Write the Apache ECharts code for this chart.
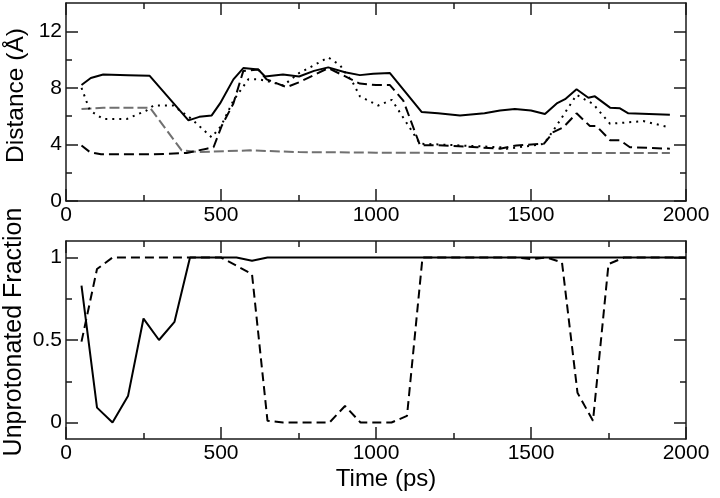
<!DOCTYPE html>
<html>
<head>
<meta charset="utf-8">
<script src="https://cdn.jsdelivr.net/npm/echarts@6/dist/echarts.min.js"></script>
<style>html,body{margin:0;padding:0;background:#fff}#c{width:720px;height:498px}</style>
</head>
<body>
<div id="c"></div>
<script>
// ---- Top panel: Distance (Å) vs Time (ps) ----
const solidT  = [50, 80, 120, 200, 270, 395, 430, 470, 497, 540, 572, 620, 642, 700, 752, 800, 846, 900, 948, 991, 1045, 1147, 1200, 1271, 1350, 1400, 1448, 1500, 1545, 1583, 1610, 1647, 1685, 1706, 1755, 1787, 1814, 1948];
const solidD  = [8.2, 8.7, 8.95, 8.9, 8.85, 5.7, 5.95, 6.05, 6.9, 8.6, 9.4, 9.3, 8.8, 8.95, 8.8, 9.2, 9.45, 9.1, 8.9, 9.0, 9.05, 6.3, 6.2, 6.05, 6.2, 6.4, 6.5, 6.4, 6.15, 6.9, 7.2, 7.9, 7.3, 7.4, 6.6, 6.55, 6.2, 6.1];

const dotT    = [50, 77, 120, 196, 260, 282, 346, 405, 470, 500, 540, 588, 620, 647, 701, 752, 800, 846, 884, 927, 948, 1007, 1051, 1142, 1200, 1300, 1400, 1421, 1500, 1542, 1583, 1647, 1700, 1755, 1862, 1948];
const dotD    = [8.0, 6.4, 5.8, 5.8, 6.4, 6.75, 6.75, 5.8, 4.5, 5.3, 7.1, 8.6, 8.6, 8.5, 8.17, 9.05, 9.6, 10.15, 9.6, 8.3, 7.4, 6.75, 7.15, 4.05, 4.0, 3.9, 3.8, 3.7, 3.9, 4.05, 5.34, 7.5, 6.87, 5.46, 5.65, 5.2];

const dashT   = [50, 77, 113, 283, 389, 454, 476, 502, 540, 572, 620, 647, 712, 752, 846, 948, 1000, 1045, 1088, 1142, 1200, 1325, 1400, 1453, 1542, 1572, 1604, 1647, 1690, 1711, 1755, 1787, 1819, 1948];
const dashD   = [3.93, 3.46, 3.3, 3.3, 3.4, 3.7, 3.8, 5.3, 6.9, 9.2, 9.3, 8.6, 8.05, 8.4, 9.4, 8.3, 8.2, 8.2, 7.1, 3.93, 3.95, 3.8, 3.7, 3.93, 4.05, 4.87, 5.2, 6.2, 5.3, 5.3, 4.3, 4.3, 3.8, 3.7];

const grayT   = [50, 120, 271, 373, 432, 594, 752, 1000, 1200, 1500, 1948];
const grayD   = [6.5, 6.6, 6.6, 3.58, 3.46, 3.58, 3.46, 3.42, 3.4, 3.4, 3.4];

// ---- Bottom panel: Unprotonated Fraction, sampled every 50 ps ----
const fracT   = [50,100,150,200,250,300,350,400,450,500,550,600,650,700,750,800,850,900,950,1000,1050,1100,1150,1200,1250,1300,1350,1400,1450,1500,1550,1600,1650,1700,1750,1800,1850,1900,1950,2000];
const fracSolid  = [0.83,0.09,0.0,0.16,0.63,0.5,0.61,1,1,1,1,0.98,1,1,1,1,1,1,1,1,1,1,1,1,1,1,1,1,1,1,1,1,1,1,1,1,1,1,1,1];
const fracDashed = [0.49,0.93,1,1,1,1,1,1,1,1,0.95,0.9,0.01,0,0,0,0,0.1,0,0,0,0.04,1,1,1,1,1,1,1,0.99,1,0.97,0.18,0.01,0.96,1,1,1,1,1];

// ---- Tick values ----
const xMajor = [0, 500, 1000, 1500, 2000];
const xMinor = [250, 750, 1250, 1750];
const topYMajor = [0, 4, 8, 12];
const topYMinor = [2, 6, 10];
const botYMajor = [0, 0.5, 1];
const botYMinor = [0.25, 0.75];

const FONT = 'Liberation Sans';
const LINE = '#1a1a1a';
const zip = (t, v) => t.map((x, i) => [x, v[i]]);
const plain = v => String(v);

function xAxes(grid, withLabels, name) {
  const base = { type: 'value', gridIndex: grid, min: 0, max: 2000, splitLine: { show: false } };
  const line = { show: true, onZero: false, lineStyle: { color: LINE, width: 1.5 } };
  return [
    Object.assign({}, base, { position: 'bottom', axisLine: line,
      axisTick: { show: true, inside: true, length: 12, customValues: xMajor, lineStyle: { color: LINE, width: 1.5 } },
      axisLabel: { show: withLabels, customValues: xMajor, margin: 4, color: '#000', fontFamily: FONT, fontSize: 21, formatter: plain },
      name: name || '', nameLocation: 'middle', nameGap: 28, nameMoveOverlap: false,
      nameTextStyle: { color: '#000', fontFamily: FONT, fontSize: 24, padding: [0, 0, 0, 20] } }),
    Object.assign({}, base, { position: 'bottom', axisLine: { show: false, onZero: false },
      axisTick: { show: true, inside: true, length: 6, customValues: xMinor, lineStyle: { color: LINE, width: 1.5 } },
      axisLabel: { show: false } }),
    Object.assign({}, base, { position: 'top', axisLine: line,
      axisTick: { show: true, inside: true, length: 12, customValues: xMajor, lineStyle: { color: LINE, width: 1.5 } },
      axisLabel: { show: false } }),
    Object.assign({}, base, { position: 'top', axisLine: { show: false, onZero: false },
      axisTick: { show: true, inside: true, length: 6, customValues: xMinor, lineStyle: { color: LINE, width: 1.5 } },
      axisLabel: { show: false } })
  ];
}

function yAxes(grid, min, max, major, minor, name, gap, fsize, pad) {
  const base = { type: 'value', gridIndex: grid, min: min, max: max, splitLine: { show: false } };
  const line = { show: true, onZero: false, lineStyle: { color: LINE, width: 1.5 } };
  return [
    Object.assign({}, base, { position: 'left', axisLine: line,
      axisTick: { show: true, inside: true, length: 12, customValues: major, lineStyle: { color: LINE, width: 1.5 } },
      axisLabel: { show: true, customValues: major, margin: 4, color: '#000', fontFamily: FONT, fontSize: 21, formatter: plain },
      name: name, nameLocation: 'middle', nameGap: gap, nameMoveOverlap: false,
      nameTextStyle: { color: '#000', fontFamily: FONT, fontSize: fsize, padding: pad } }),
    Object.assign({}, base, { position: 'left', axisLine: { show: false, onZero: false },
      axisTick: { show: true, inside: true, length: 6, customValues: minor, lineStyle: { color: LINE, width: 1.5 } },
      axisLabel: { show: false } }),
    Object.assign({}, base, { position: 'right', axisLine: line,
      axisTick: { show: true, inside: true, length: 12, customValues: major, lineStyle: { color: LINE, width: 1.5 } },
      axisLabel: { show: false } }),
    Object.assign({}, base, { position: 'right', axisLine: { show: false, onZero: false },
      axisTick: { show: true, inside: true, length: 6, customValues: minor, lineStyle: { color: LINE, width: 1.5 } },
      axisLabel: { show: false } })
  ];
}

function lineSeries(xi, yi, data, color, type, width) {
  return { type: 'line', xAxisIndex: xi, yAxisIndex: yi, data: data, symbol: 'none', smooth: false,
    lineStyle: { color: color, width: width || 2, type: type, cap: 'butt' }, z: 3, silent: true };
}

const chart = echarts.init(document.getElementById('c'), null, { renderer: 'canvas' });
chart.setOption({
  animation: false,
  backgroundColor: '#fff',
  grid: [
    { left: 66, top: 3, width: 620, height: 198, containLabel: false, outerBoundsMode: 'none' },
    { left: 66, top: 241, width: 620, height: 198, containLabel: false, outerBoundsMode: 'none' }
  ],
  xAxis: xAxes(0, true, '').concat(xAxes(1, true, 'Time (ps)')),
  yAxis: yAxes(0, 0, 14, topYMajor, topYMinor, 'Distance (Å)', 37, 24.5, [0, 0, 0, 13])
    .concat(yAxes(1, -0.1, 1.1, botYMajor, botYMinor, 'Unprotonated Fraction', 39, 25, [0, 0, 0, 16])),
  series: [
    lineSeries(0, 0, zip(grayT, grayD), '#707070', [10, 4], 2),
    lineSeries(0, 0, zip(dashT, dashD), '#000', [10, 5], 2),
    lineSeries(0, 0, zip(dotT, dotD), '#000', [2, 5], 2),
    lineSeries(0, 0, zip(solidT, solidD), '#000', 'solid', 2),
    lineSeries(4, 4, zip(fracT, fracDashed), '#000', [9, 5], 2),
    lineSeries(4, 4, zip(fracT, fracSolid), '#000', 'solid', 2)
  ]
});
</script>
</body>
</html>
